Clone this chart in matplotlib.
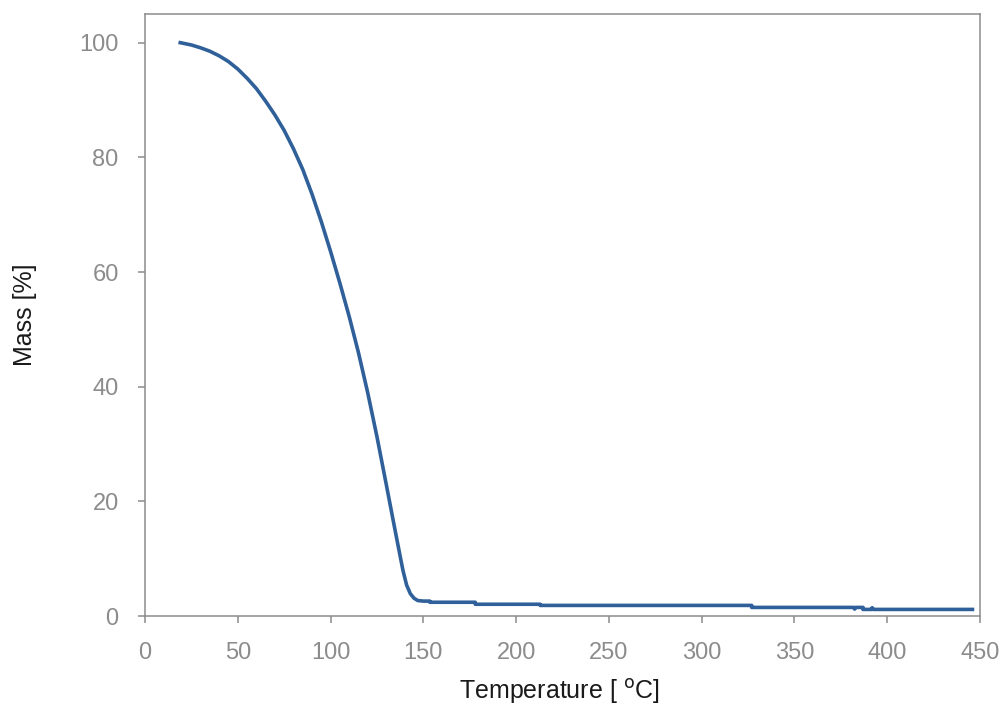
import matplotlib
matplotlib.use("Agg")
import matplotlib.pyplot as plt

plt.rcParams['font.family'] = ['Liberation Sans', 'DejaVu Sans']

# TGA curve
temperature = [19, 25, 30, 35, 40, 45, 50, 55, 60, 65, 70, 75, 80, 85, 90, 95, 100,
               105, 110, 115, 120, 125, 130, 135, 139, 141, 143, 145, 147, 150,
               153.5, 153.5, 178, 178, 213, 213, 327, 327, 382, 382.5, 383, 387, 387,
               391.5, 392, 392.5, 446]
mass = [100, 99.6, 99.1, 98.5, 97.7, 96.7, 95.4, 93.8, 92.0, 89.8, 87.4, 84.7, 81.5,
        77.9, 73.6, 68.8, 63.6, 58.1, 52.3, 46.0, 39.0, 31.3, 23.0, 14.6, 8.0, 5.4,
        3.9, 3.1, 2.7, 2.6,
        2.6, 2.4, 2.4, 2.05, 2.05, 1.85, 1.85, 1.5, 1.5, 1.2, 1.5, 1.5, 1.15,
        1.15, 1.45, 1.15, 1.15]

x_ticks = [0, 50, 100, 150, 200, 250, 300, 350, 400, 450]
y_ticks = [0, 20, 40, 60, 80, 100]

grey = '#8c8c8c'

fig = plt.figure(figsize=(10.05, 7.11), dpi=100)
ax = fig.add_axes([0.1443, 0.1336, 0.8307, 0.8467])

ax.plot(temperature, mass, color='#2f6099', linewidth=2.6, solid_joinstyle='round')

ax.set_xlim(0, 450)
ax.set_ylim(0, 105)
ax.set_xticks(x_ticks)
ax.set_yticks(y_ticks)

for s in ax.spines.values():
    s.set_color(grey)
    s.set_linewidth(1.1)

ax.tick_params(direction='out', length=5, width=1.1, color=grey,
               labelcolor=grey, labelsize=17, pad=14)

ax.set_xlabel('Temperature [ $^{\\mathrm{o}}$C]', fontsize=18, color='#1a1a1a')
ax.set_ylabel('Mass [%]', fontsize=18, color='#1a1a1a')
ax.xaxis.label.set_va('center')
ax.yaxis.label.set_va('center')
ax.xaxis.set_label_coords(0.496, -0.126)
ax.yaxis.set_label_coords(-0.144, 0.5)

fig.savefig('out.png', dpi=100)
